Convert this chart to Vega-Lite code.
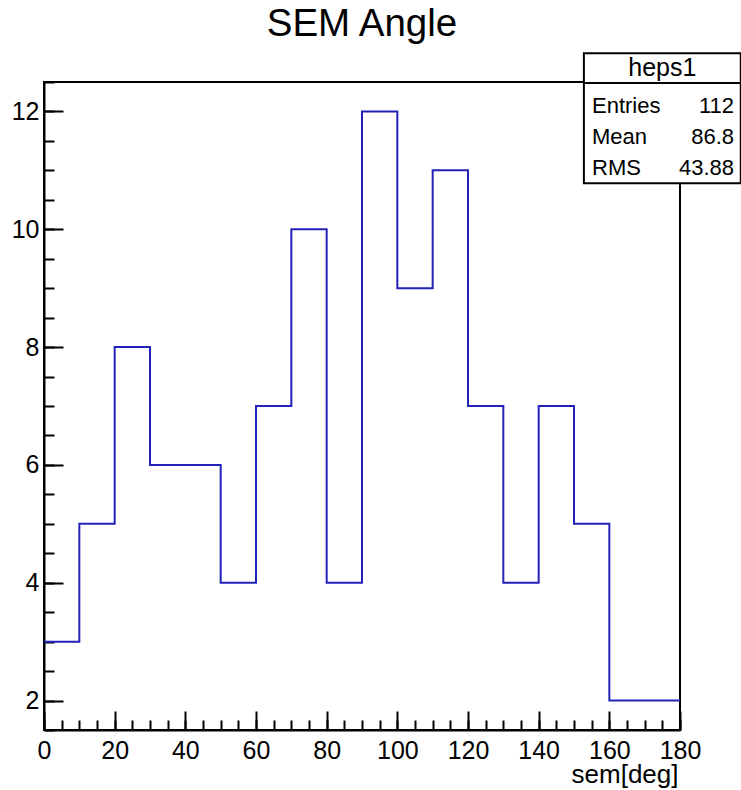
{
  "$schema": "https://vega.github.io/schema/vega-lite/v6.json",
  "width": 636,
  "height": 648,
  "autosize": {"type": "none"},
  "padding": {"left": 44, "top": 82, "right": 61, "bottom": 60},
  "background": "white",
  "config": {
    "font": "Liberation Sans",
    "view": {"stroke": "black", "strokeWidth": 2}
  },
  "title": {
    "text": "SEM Angle",
    "font": "Liberation Sans",
    "fontSize": 38.5,
    "fontWeight": "normal",
    "color": "black",
    "anchor": "middle",
    "frame": "group",
    "baseline": "alphabetic",
    "offset": -22
  },
  "data": {
    "values": [
      {"start": 0, "end": 10, "count": 3},
      {"start": 10, "end": 20, "count": 5},
      {"start": 20, "end": 30, "count": 8},
      {"start": 30, "end": 40, "count": 6},
      {"start": 40, "end": 50, "count": 6},
      {"start": 50, "end": 60, "count": 4},
      {"start": 60, "end": 70, "count": 7},
      {"start": 70, "end": 80, "count": 10},
      {"start": 80, "end": 90, "count": 4},
      {"start": 90, "end": 100, "count": 12},
      {"start": 100, "end": 110, "count": 9},
      {"start": 110, "end": 120, "count": 11},
      {"start": 120, "end": 130, "count": 7},
      {"start": 130, "end": 140, "count": 4},
      {"start": 140, "end": 150, "count": 7},
      {"start": 150, "end": 160, "count": 5},
      {"start": 160, "end": 170, "count": 2},
      {"start": 170, "end": 180, "count": 2}
    ]
  },
  "layer": [
    {
      "transform": [{"fold": ["start", "end"], "as": ["edge", "xpos"]}],
      "mark": {"type": "line", "color": "#2222b8", "strokeWidth": 2, "strokeJoin": "miter"},
      "encoding": {
        "x": {
          "field": "xpos", "type": "quantitative",
          "scale": {"domain": [0, 180], "nice": false, "zero": false},
          "axis": {
            "orient": "bottom",
            "values": [0, 20, 40, 60, 80, 100, 120, 140, 160, 180],
            "format": "d",
            "tickSize": -19, "tickWidth": 2, "tickColor": "black",
            "domainColor": "black", "domainWidth": 2,
            "labelFontSize": 25, "labelColor": "black", "labelPadding": 27,
            "labelFlush": false, "labelOverlap": false,
            "grid": false,
            "title": "sem[deg]", "titleFontSize": 26, "titleFontWeight": "normal",
            "titleColor": "black", "titleAnchor": "end", "titleAlign": "right",
            "titleBaseline": "alphabetic", "titleX": 634, "titleY": 52
          }
        },
        "y": {
          "field": "count", "type": "quantitative",
          "scale": {"domain": [1.5, 12.5], "nice": false, "zero": false},
          "axis": {
            "orient": "left",
            "values": [2, 4, 6, 8, 10, 12],
            "format": "d",
            "tickSize": -19, "tickWidth": 2, "tickColor": "black",
            "domainColor": "black", "domainWidth": 2,
            "labelFontSize": 25, "labelColor": "black", "labelPadding": 24,
            "labelFlush": false, "labelOverlap": false,
            "grid": false, "title": null
          }
        },
        "order": [
          {"field": "start", "type": "quantitative"},
          {"field": "xpos", "type": "quantitative"}
        ]
      }
    },
    {
      "mark": {"type": "point", "opacity": 0},
      "encoding": {
        "x": {
          "field": "start", "type": "quantitative",
          "axis": {
            "orient": "bottom",
            "values": [0,5,10,15,20,25,30,35,40,45,50,55,60,65,70,75,80,85,90,95,100,105,110,115,120,125,130,135,140,145,150,155,160,165,170,175,180],
            "tickSize": -10, "tickWidth": 2, "tickColor": "black",
            "labels": false, "domain": false, "grid": false, "title": null
          }
        },
        "y": {
          "field": "count", "type": "quantitative",
          "axis": {
            "orient": "left",
            "values": [1.5,2,2.5,3,3.5,4,4.5,5,5.5,6,6.5,7,7.5,8,8.5,9,9.5,10,10.5,11,11.5,12,12.5],
            "tickSize": -10, "tickWidth": 2, "tickColor": "black",
            "labels": false, "domain": false, "grid": false, "title": null
          }
        }
      }
    },
    {
      "data": {"values": [{}]},
      "mark": {"type": "rect", "fill": "white", "stroke": "black", "strokeWidth": 2},
      "encoding": {
        "x": {"datum": 152.8, "type": "quantitative", "axis": null},
        "x2": {"datum": 197.2},
        "y": {"datum": 12.99, "type": "quantitative", "axis": null},
        "y2": {"datum": 10.78}
      }
    },
    {
      "data": {"values": [{}]},
      "mark": {"type": "rule", "color": "black", "strokeWidth": 2},
      "encoding": {
        "x": {"datum": 152.8, "type": "quantitative", "axis": null},
        "x2": {"datum": 197.2},
        "y": {"datum": 12.483, "type": "quantitative", "axis": null}
      }
    },
    {
      "data": {"values": [{}]},
      "mark": {"type": "text", "text": "heps1", "fontSize": 25, "fontWeight": "normal", "align": "center", "baseline": "alphabetic", "fill": "black"},
      "encoding": {
        "x": {"datum": 175, "type": "quantitative", "axis": null},
        "y": {"datum": 12.6, "type": "quantitative", "axis": null}
      }
    },
    {
      "data": {"values": [{}]},
      "mark": {"type": "text", "text": ["Entries", "Mean", "RMS"], "fontSize": 22, "fontWeight": "normal", "lineHeight": 31, "align": "left", "baseline": "alphabetic", "fill": "black"},
      "encoding": {
        "x": {"datum": 155.1, "type": "quantitative", "axis": null},
        "y": {"datum": 11.979, "type": "quantitative", "axis": null}
      }
    },
    {
      "data": {"values": [{}]},
      "mark": {"type": "text", "text": ["112", "86.8", "43.88"], "fontSize": 22, "fontWeight": "normal", "lineHeight": 31, "align": "right", "baseline": "alphabetic", "fill": "black"},
      "encoding": {
        "x": {"datum": 195.3, "type": "quantitative", "axis": null},
        "y": {"datum": 11.979, "type": "quantitative", "axis": null}
      }
    }
  ],
  "resolve": {"axis": {"x": "independent", "y": "independent"}}
}
